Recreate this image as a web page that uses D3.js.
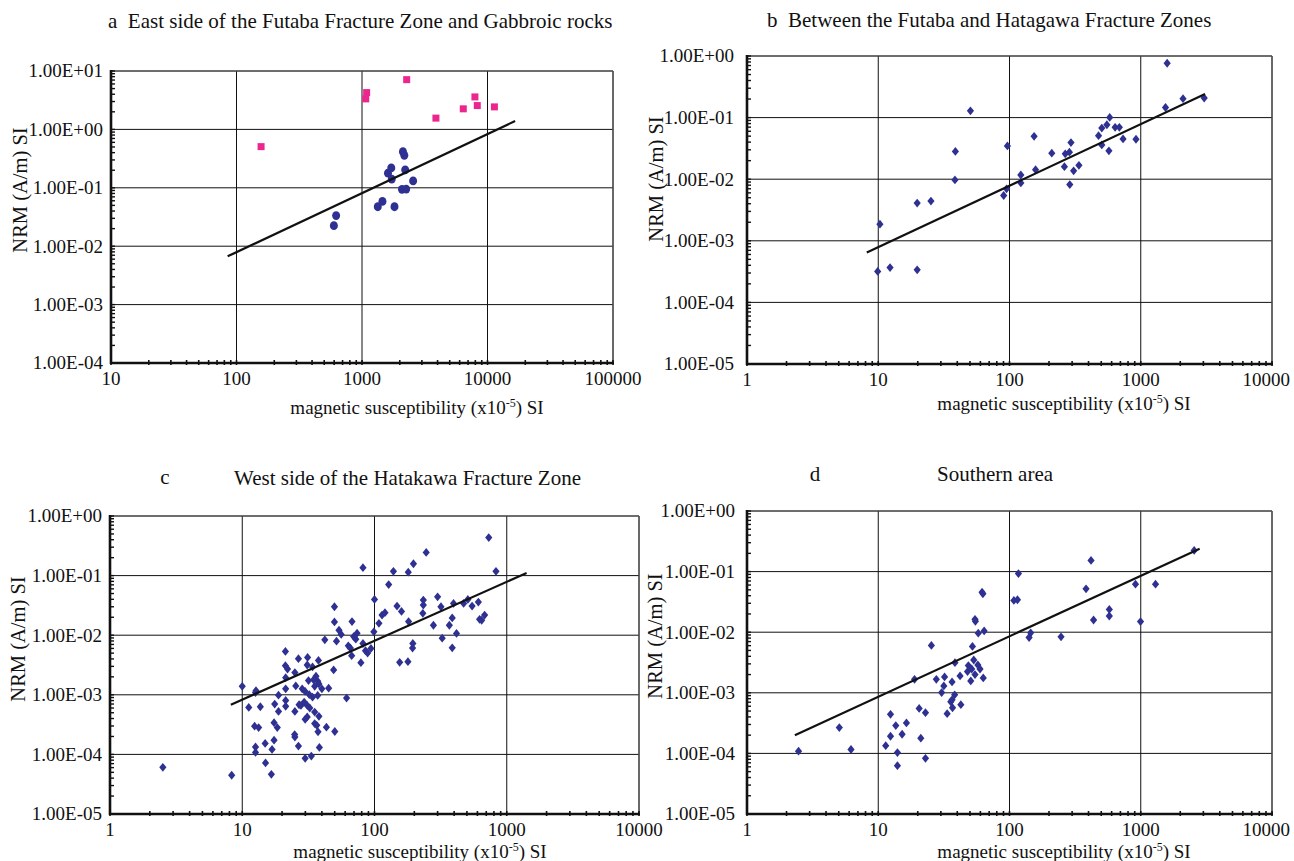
<!DOCTYPE html>
<html>
<head>
<meta charset="utf-8">
<script src="https://cdn.jsdelivr.net/npm/d3@7"></script>
<style>
  html, body { margin: 0; padding: 0; background: #fff; }
  text { font-family: "Liberation Serif", "Times New Roman", serif; fill: #111; }
</style>
</head>
<body>
<svg id="chart" width="1294" height="861"></svg>
<script>
// ---------------- DATA ----------------
const xTicksA = [10, 100, 1000, 10000, 100000];
const xTickLabelsA = ["10", "100", "1000", "10000", "100000"];
const yTicksA = [1e-4, 1e-3, 1e-2, 1e-1, 1, 10];
const yTickLabelsA = ["1.00E-04", "1.00E-03", "1.00E-02", "1.00E-01", "1.00E+00", "1.00E+01"];
const xTicksB = [1, 10, 100, 1000, 10000];
const xTickLabelsB = ["1", "10", "100", "1000", "10000"];
const yTicksB = [1e-5, 1e-4, 1e-3, 1e-2, 1e-1, 1];
const yTickLabelsB = ["1.00E-05", "1.00E-04", "1.00E-03", "1.00E-02", "1.00E-01", "1.00E+00"];

// Panel a: East side of the Futaba Fracture Zone (circles) and Gabbroic rocks (squares)
const aCircleX = [597, 622, 1336, 1455, 1815, 1611, 1711, 1726, 2119, 2174, 2209, 2083, 2250, 2555];
const aCircleY = [0.0225, 0.0334, 0.0474, 0.0585, 0.0474, 0.178, 0.219, 0.141, 0.416, 0.36, 0.203, 0.094, 0.095, 0.131];
const aSquareX = [157, 1071, 1089, 2270, 3882, 6412, 7940, 8290, 11350];
const aSquareY = [0.507, 3.33, 4.27, 7.11, 1.56, 2.25, 3.6, 2.56, 2.43];
const aFitX = [85, 16600];
const aFitY = [0.0067, 1.39];

// Panel b: Between the Futaba and Hatagawa Fracture Zones
const bX = [1589, 50.4, 2099, 3043, 1544, 580, 505, 552, 638, 687, 477, 733, 920, 505, 572,
            154, 96.4, 38.7, 294, 210, 266, 286, 262, 308, 338, 288, 158, 122, 122, 38.4,
            95, 90.3, 25.2, 19.8, 10.3, 9.9, 12.3, 19.8];
const bY = [0.762, 0.129, 0.203, 0.208, 0.146, 0.1005, 0.0676, 0.0766, 0.0694, 0.0694, 0.0509, 0.045, 0.0445, 0.036, 0.0289,
            0.0497, 0.0347, 0.0282, 0.0393, 0.0265, 0.0258, 0.0275, 0.016, 0.0137, 0.0168, 0.00818, 0.0143, 0.0117, 0.0087, 0.00973,
            0.00697, 0.00544, 0.00441, 0.0041, 0.00186, 0.000318, 0.000368, 0.000338];
const bFitX = [8.18, 3090];
const bFitY = [0.000643, 0.2415];

// Panel c: West side of the Hatakawa Fracture Zone
const cX = [731, 246, 829, 81.8, 139, 180, 197, 128, 100, 234, 234, 300, 318, 232, 148, 160, 120, 114, 108, 181,
            279, 368, 387, 396, 472, 508, 547, 610, 680, 623, 646, 417, 325, 387, 195, 194, 155, 179, 98.9, 94,
            88.7, 85.5, 78.9, 81.8, 72.2, 73.8, 69.6, 67.6, 65.7, 67.2, 63.4, 49.8, 49.8, 53.9, 56, 51.6, 42.1, 49.1, 61.5, 50.1,
            43.3, 37.7, 36.1, 37.2, 38, 40, 45, 34, 31.2, 31, 26.6, 21.2, 21.2, 22, 25, 21.3, 25.4, 21.3, 28.4, 29.9,
            34.6, 37.2, 34, 32.1, 31.7, 35.3, 31, 29.4, 27.8, 32.4, 35.3, 31, 29.9, 38, 35.3, 36.6, 37.4, 38.3, 25, 26.9,
            24.9, 25, 26.6, 29.9, 33.3, 21.3, 21.3, 18.8, 18.8, 17.6, 12.7, 12.6, 13.7, 11.2, 10, 12.4, 13.3, 17.4, 18.4, 17.4,
            16.8, 14.9, 12.6, 12.6, 15, 16.6, 8.32, 2.51];
const cY = [0.435, 0.245, 0.118, 0.136, 0.118, 0.114, 0.158, 0.0708, 0.0398, 0.0388, 0.032, 0.0441, 0.030, 0.0233, 0.0308, 0.0251, 0.0239, 0.0218, 0.0158, 0.0169,
            0.0147, 0.0147, 0.0195, 0.0341, 0.0341, 0.0398, 0.0308, 0.036, 0.0218, 0.0185, 0.0178, 0.0107, 0.0089, 0.00615, 0.00726, 0.00607, 0.0035, 0.0036, 0.0114, 0.006,
            0.00501, 0.00548, 0.00346, 0.00726, 0.00858, 0.0108, 0.0095, 0.0169, 0.00607, 0.00453, 0.00664, 0.030, 0.0167, 0.0121, 0.0103, 0.00794, 0.00836, 0.00261, 0.00088, 0.000242,
            0.000286, 0.00378, 0.00205, 0.00169, 0.00152, 0.00126, 0.00129, 0.00293, 0.00424, 0.00316, 0.00403, 0.00534, 0.00308, 0.00271, 0.00236, 0.00194, 0.00141, 0.00126, 0.00126, 0.00114,
            0.00178, 0.000976, 0.000914, 0.00101, 0.00173, 0.00139, 0.000664, 0.000755, 0.000664, 0.0006, 0.000514, 0.000425, 0.000388, 0.000435, 0.000329, 0.000308, 0.000239, 0.000131, 0.000527, 0.000681,
            0.000215, 0.000195, 0.000138, 0.0000858, 0.0000938, 0.000805, 0.00064, 0.000527, 0.000987, 0.000699, 0.00117, 0.00109, 0.00063, 0.000615, 0.00139, 0.000297, 0.000282, 0.000341, 0.000282, 0.000173,
            0.000121, 0.000153, 0.000133, 0.000108, 0.0000718, 0.0000464, 0.0000447, 0.0000607];
const cFitX = [8.2, 1413];
const cFitY = [0.000681, 0.1108];

// Panel d: Southern area
const dX = [2553, 418, 117, 383, 912, 1296, 61.8, 62.7, 108, 115, 576, 576, 437, 996, 54.6, 55, 57.8, 64.1, 145, 141,
            247, 25.4, 52.2, 38.4, 53.4, 48.6, 57.4, 59.6, 51.5, 47.9, 54.6, 18.9, 27.7, 32, 42, 63.1, 36.5, 50.7, 31.6, 30.4,
            38.2, 36.5, 35.7, 36.8, 42.6, 33.5, 20.5, 22.9, 12.4, 13.6, 16.4, 12.4, 15.2, 11.4, 21.1, 14, 14, 22.9, 5.05, 6.2, 2.47];
const dY = [0.224, 0.153, 0.0927, 0.052, 0.062, 0.062, 0.0458, 0.043, 0.0335, 0.0343, 0.0238, 0.0185, 0.0159, 0.015, 0.0163, 0.0151, 0.00963, 0.0105, 0.00975, 0.00818,
            0.00838, 0.00604, 0.00582, 0.00314, 0.00348, 0.00281, 0.00288, 0.00247, 0.00247, 0.00224, 0.002, 0.00167, 0.00167, 0.00183, 0.0019, 0.00176, 0.00151, 0.00157, 0.0013, 0.00101,
            0.000927, 0.000767, 0.000711, 0.000567, 0.000636, 0.000453, 0.000553, 0.00047, 0.000442, 0.000288, 0.000318, 0.000192, 0.000207, 0.000134, 0.000178, 0.000103, 0.0000628, 0.0000828, 0.000267, 0.000116, 0.000109];
const dFitX = [2.315, 2810];
const dFitY = [0.0002, 0.238];

// ---------------- DRAWING ----------------
const BLUE = "#2E3192";
const PINK = "#EC268F";
const WIDTH = 1294;
const svg = d3.select("#chart");
svg.append("rect").attr("width", 1294).attr("height", 861).attr("fill", "#fff");

const zip = (xs, ys) => xs.map((v, i) => ({x: v, y: ys[i]}));

function diamondPath(hw, hh) {
  const p = d3.path();
  p.moveTo(0, -hh); p.lineTo(hw, 0); p.lineTo(0, hh); p.lineTo(-hw, 0); p.closePath();
  return p.toString();
}

function drawPanel(p) {
  const g = svg.append("g");
  const x = d3.scaleLog().domain(p.xDomain).range([p.left, p.right]);
  const y = d3.scaleLog().domain(p.yDomain).range([p.bottom, p.top]);

  // gridlines
  g.selectAll(".vg").data(p.xTicks).join("line")
    .attr("x1", d => x(d)).attr("x2", d => x(d))
    .attr("y1", p.top).attr("y2", p.bottom)
    .attr("stroke", "#111").attr("stroke-width", 1);
  g.selectAll(".hg").data(p.yTicks).join("line")
    .attr("x1", p.left).attr("x2", p.right)
    .attr("y1", d => y(d)).attr("y2", d => y(d))
    .attr("stroke", "#111").attr("stroke-width", 1);

  // frame top / right
  g.append("line").attr("x1", p.left).attr("x2", p.right).attr("y1", p.top).attr("y2", p.top)
    .attr("stroke", "#555").attr("stroke-width", 1.2);
  g.append("line").attr("x1", p.right).attr("x2", p.right).attr("y1", p.top).attr("y2", p.bottom)
    .attr("stroke", "#555").attr("stroke-width", 1.2);

  // minor ticks
  const minor = (dom) => {
    const out = [];
    const e0 = Math.round(Math.log10(dom[0])), e1 = Math.round(Math.log10(dom[1]));
    for (let e = e0; e < e1; e++) for (let k = 1; k <= 9; k++) out.push(k * Math.pow(10, e));
    out.push(Math.pow(10, e1));
    return out;
  };
  g.selectAll(".xm").data(minor(p.xDomain)).join("line")
    .attr("x1", d => x(d)).attr("x2", d => x(d))
    .attr("y1", p.bottom - 3).attr("y2", p.bottom + 2)
    .attr("stroke", "#111").attr("stroke-width", 1.6);
  g.selectAll(".ym").data(minor(p.yDomain)).join("line")
    .attr("x1", p.left - 1).attr("x2", p.left + 4)
    .attr("y1", d => y(d)).attr("y2", d => y(d))
    .attr("stroke", "#111").attr("stroke-width", 1.4);

  // axis lines
  g.append("line").attr("x1", p.left).attr("x2", p.left).attr("y1", p.top - 1).attr("y2", p.bottom + 1)
    .attr("stroke", "#111").attr("stroke-width", 2.6);
  g.append("line").attr("x1", p.left - 1).attr("x2", p.right + 1).attr("y1", p.bottom).attr("y2", p.bottom)
    .attr("stroke", "#111").attr("stroke-width", 2.4);

  // tick labels
  const xls = g.selectAll(".xl").data(p.xTicks).join("text")
    .attr("x", d => x(d)).attr("y", p.bottom + 22)
    .attr("text-anchor", "middle").attr("font-size", 19)
    .text((d, i) => p.xLabels[i]);
  // keep labels inside the page (as in the reference, where the last label ends at the edge)
  xls.each(function(d) {
    const w = this.getComputedTextLength();
    if (x(d) + w / 2 > WIDTH - 3) {
      d3.select(this).attr("text-anchor", "end").attr("x", WIDTH - 4);
    }
  });
  g.selectAll(".yl").data(p.yTicks).join("text")
    .attr("x", p.left - p.yGap).attr("y", d => y(d))
    .attr("dy", "0.34em")
    .attr("text-anchor", "end").attr("font-size", 19)
    .text((d, i) => p.yLabels[i]);

  // points
  p.series.forEach(s => {
    const pts = zip(s.xs, s.ys);
    if (s.shape === "circle") {
      g.selectAll(null).data(pts).join("ellipse")
        .attr("cx", d => x(d.x)).attr("cy", d => y(d.y))
        .attr("rx", 4).attr("ry", 4.4).attr("fill", s.color);
    } else if (s.shape === "square") {
      g.selectAll(null).data(pts).join("rect")
        .attr("x", d => x(d.x) - 3.5).attr("y", d => y(d.y) - 3.5)
        .attr("width", 7).attr("height", 7).attr("fill", s.color);
    } else {
      const dp = diamondPath(3.6, 4.4);
      g.selectAll(null).data(pts).join("path")
        .attr("d", dp)
        .attr("transform", d => `translate(${x(d.x)},${y(d.y)})`)
        .attr("fill", s.color);
    }
  });

  // fit line
  const line = d3.line().x(d => x(d.x)).y(d => y(d.y));
  g.append("path").datum(zip(p.fitX, p.fitY)).attr("d", line)
    .attr("fill", "none").attr("stroke", "#111").attr("stroke-width", 2.2);

  // titles
  p.titles.forEach(t => {
    g.append("text").attr("x", t.x).attr("y", t.y)
      .attr("text-anchor", t.anchor).attr("font-size", 21)
      .style("white-space", "pre").text(t.text);
  });

  // y axis label
  g.append("text")
    .attr("transform", `translate(${p.yLab[0]},${p.yLab[1]}) rotate(-90)`)
    .attr("text-anchor", "middle").attr("dominant-baseline", "central")
    .attr("font-size", 20.5).text("NRM (A/m) SI");

  // x axis label
  const xl = g.append("text").attr("x", p.xLab[0]).attr("y", p.xLab[1])
    .attr("text-anchor", "middle").attr("font-size", 19);
  xl.append("tspan").text("magnetic susceptibility (x10");
  xl.append("tspan").attr("font-size", 12).attr("dy", -7).text("-5");
  xl.append("tspan").attr("dy", 7).text(") SI");
}

drawPanel({
  left: 111, right: 613, top: 71, bottom: 363,
  xDomain: [10, 100000], yDomain: [1e-4, 10],
  xTicks: xTicksA, xLabels: xTickLabelsA, yTicks: yTicksA, yLabels: yTickLabelsA, yGap: 8,
  series: [
    {xs: aCircleX, ys: aCircleY, shape: "circle", color: BLUE},
    {xs: aSquareX, ys: aSquareY, shape: "square", color: PINK}
  ],
  fitX: aFitX, fitY: aFitY,
  titles: [{text: "a  East side of the Futaba Fracture Zone and Gabbroic rocks", x: 108, y: 28, anchor: "start"}],
  yLab: [19.5, 190], xLab: [417, 414]
});

drawPanel({
  left: 747, right: 1272, top: 56, bottom: 364,
  xDomain: [1, 10000], yDomain: [1e-5, 1],
  xTicks: xTicksB, xLabels: xTickLabelsB, yTicks: yTicksB, yLabels: yTickLabelsB, yGap: 13,
  series: [{xs: bX, ys: bY, shape: "diamond", color: BLUE}],
  fitX: bFitX, fitY: bFitY,
  titles: [{text: "b  Between the Futaba and Hatagawa Fracture Zones", x: 767, y: 27, anchor: "start"}],
  yLab: [656, 179], xLab: [1064, 410]
});

drawPanel({
  left: 110, right: 639, top: 516, bottom: 814,
  xDomain: [1, 10000], yDomain: [1e-5, 1],
  xTicks: xTicksB, xLabels: xTickLabelsB, yTicks: yTicksB, yLabels: yTickLabelsB, yGap: 8,
  series: [{xs: cX, ys: cY, shape: "diamond", color: BLUE}],
  fitX: cFitX, fitY: cFitY,
  titles: [
    {text: "c", x: 165, y: 484, anchor: "middle"},
    {text: "West side of the Hatakawa Fracture Zone", x: 234, y: 485, anchor: "start"}
  ],
  yLab: [18, 639], xLab: [420, 858]
});

drawPanel({
  left: 747, right: 1272, top: 511, bottom: 814,
  xDomain: [1, 10000], yDomain: [1e-5, 1],
  xTicks: xTicksB, xLabels: xTickLabelsB, yTicks: yTicksB, yLabels: yTickLabelsB, yGap: 12,
  series: [{xs: dX, ys: dY, shape: "diamond", color: BLUE}],
  fitX: dFitX, fitY: dFitY,
  titles: [
    {text: "d", x: 815, y: 481, anchor: "middle"},
    {text: "Southern area", x: 937, y: 481, anchor: "start"}
  ],
  yLab: [655, 636], xLab: [1064, 858]
});
</script>
</body>
</html>
